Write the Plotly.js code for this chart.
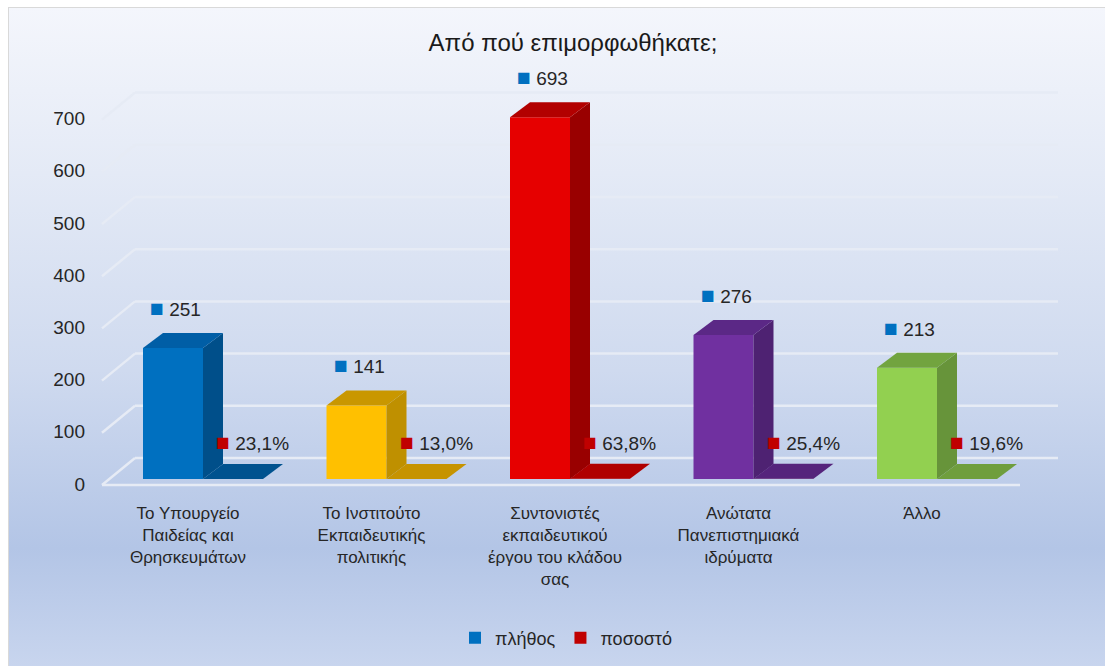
<!DOCTYPE html>
<html>
<head>
<meta charset="utf-8">
<script src="https://cdn.plot.ly/plotly-3.0.1.min.js"></script>
<style>
  html, body { margin: 0; padding: 0; background: #ffffff; width: 1105px; height: 666px; overflow: hidden; }
  #bg { position: absolute; left: 8px; top: 7px; width: 1097px; height: 659px;
        border-top: 1px solid #d9d9d9; border-left: 1px solid #d9d9d9;
        background: linear-gradient(to bottom, #f4f6fc 0%, #e4eaf6 25%, #cfdaef 55%, #b3c5e6 82%, #c8d5ee 100%); }
  #chart { position: absolute; left: 0; top: 0; width: 1105px; height: 666px; }
</style>
</head>
<body>
<div id="bg"></div>
<div id="chart"></div>
<script>
// ---------- data ----------
const categories = [
  'Το Υπουργείο<br>Παιδείας και<br>Θρησκευμάτων',
  'Το Ινστιτούτο<br>Εκπαιδευτικής<br>πολιτικής',
  'Συντονιστές<br>εκπαιδευτικού<br>έργου του κλάδου<br>σας',
  'Ανώτατα<br>Πανεπιστημιακά<br>ιδρύματα',
  'Άλλο'
];
const counts = [251, 141, 693, 276, 213];          // πλήθος
const percents = [23.1, 13.0, 63.8, 25.4, 19.6];   // ποσοστό (%)
const yTicks = [0, 100, 200, 300, 400, 500, 600, 700];

// ---------- styles ----------
const frontColors = ['#0070c0', '#ffc000', '#e60000', '#7030a0', '#92d050'];
const sideColors  = ['#004f8a', '#bf9000', '#990000', '#4e2272', '#67943a'];
const topColors   = ['#005ea6', '#c99700', '#b20000', '#5b2886', '#72a43f'];
const slabColors  = ['#00528f', '#c69300', '#b00000', '#55247c', '#6f9e3d'];
const seriesColors = ['#0070c0', '#c00000'];
const FONT = 'Liberation Sans, Arial, sans-serif';

// ---------- geometry (pixels) ----------
const L = 95, R = 1075, T = 50, B = 505;
const PX_X = 183.5, PX_Y = 0.522;   // px per x unit / per y unit
const X0PX = 203, Y0PX = 479;       // pixel of category 0 group centre / value 0 (bar front plane)
const xRange = [-(X0PX - L) / PX_X, (R - X0PX) / PX_X];
const yRange = [-(B - Y0PX) / PX_Y, (Y0PX - T) / PX_Y];
const groupPx = 120;
const w = (groupPx / 2) / PX_X;     // width of one bar in x units
const dxu = 20 / PX_X, dyu = 15 / PX_Y;   // bar depth
const pxToX = px => (px - X0PX) / PX_X;
const FLx = pxToX(102), FRx = pxToX(1020), BLx = pxToX(135), BRx = pxToX(1058);
const frontOff = 6 / PX_Y, backOff = 21 / PX_Y;

const idx = categories.map((_, i) => i);
const fracs = percents.map(p => p / 100);

const traces = [];
traces.push({
  type: 'bar', name: 'πλήθος', x: idx, y: counts, width: w, offset: -w,
  marker: { color: frontColors, line: { width: 0 } }, hoverinfo: 'y'
});
traces.push({
  type: 'bar', name: 'ποσοστό', x: idx, y: fracs, width: w, offset: 0,
  marker: { color: seriesColors[1], line: { width: 0 } }, hoverinfo: 'skip'
});

function poly(xs, ys, color) {
  traces.push({
    type: 'scatter', mode: 'lines', x: xs.concat([xs[0]]), y: ys.concat([ys[0]]),
    fill: 'toself', fillcolor: color, line: { width: 0, color: color },
    hoverinfo: 'skip', showlegend: false
  });
}
idx.forEach(i => {
  const v = counts[i], p = fracs[i];
  // πλήθος bar: side and top faces
  poly([i, i + dxu, i + dxu, i], [0, dyu, v + dyu, v], sideColors[i]);
  poly([i - w, i - w + dxu, i + dxu, i], [v, v + dyu, v + dyu, v], topColors[i]);
  // ποσοστό bar (fraction, almost zero height): top face
  poly([i, i + w, i + w + dxu, i + dxu], [p, p, p + dyu, p + dyu], slabColors[i]);
});

// walls: back wall gridlines and left wall lines
const gridColor = '#e6ebf5';
const shapes = [];
yTicks.forEach(v => {
  shapes.push({ type: 'line', xref: 'x', yref: 'y', layer: 'below',
    x0: BLx, x1: BRx, y0: v + backOff, y1: v + backOff, line: { color: gridColor, width: 2.5 } });
  shapes.push({ type: 'line', xref: 'x', yref: 'y', layer: 'below',
    x0: FLx, x1: BLx, y0: v - frontOff, y1: v + backOff, line: { color: gridColor, width: 2.5 } });
});
shapes.push({ type: 'line', xref: 'x', yref: 'y', layer: 'below',
  x0: FLx, x1: FRx, y0: -frontOff, y1: -frontOff, line: { color: gridColor, width: 2.5 } });

// data labels
const annotations = [];
const fmtPct = p => p.toFixed(1).replace('.', ',') + '%';
const sq = c => '<span style="color:' + c + ';font-size:23px">■</span>&nbsp;';
idx.forEach(i => {
  annotations.push({
    x: i - w, y: counts[i], xref: 'x', yref: 'y', xanchor: 'left', yanchor: 'middle',
    xshift: 5, yshift: 40, showarrow: false,
    text: sq(seriesColors[0]) + counts[i],
    font: { family: FONT, size: 19, color: '#262626' }
  });
  annotations.push({
    x: i, y: fracs[i], xref: 'x', yref: 'y', xanchor: 'left', yanchor: 'middle',
    xshift: 11, yshift: 37, showarrow: false,
    text: sq(seriesColors[1]) + fmtPct(percents[i]),
    font: { family: FONT, size: 19, color: '#262626' }
  });
});

const layout = {
  width: 1105, height: 666,
  paper_bgcolor: 'rgba(0,0,0,0)', plot_bgcolor: 'rgba(0,0,0,0)',
  margin: { l: L, r: 1105 - R, t: T, b: 666 - B, pad: 0 },
  font: { family: FONT, size: 18, color: '#262626' },
  title: { text: 'Από πού επιμορφωθήκατε;', x: 573 / 1105, xanchor: 'center',
           y: 1 - 43 / 666, yanchor: 'middle', font: { size: 24, color: '#1a1a1a' } },
  barmode: 'overlay',
  xaxis: { range: xRange, tickvals: idx, ticktext: categories, showgrid: false, zeroline: false,
           showline: false, ticks: '', ticklabelshift: -15, ticklabelstandoff: -4,
           tickfont: { size: 17, color: '#262626' }, fixedrange: true, automargin: false },
  yaxis: { range: yRange, tickvals: yTicks, showgrid: false, zeroline: false, showline: false,
           ticks: '', ticklabelshift: 5, ticklabelstandoff: 9,
           tickfont: { size: 19, color: '#262626' }, fixedrange: true, automargin: false },
  showlegend: true,
  legend: { orientation: 'h', xref: 'container', yref: 'container', x: 566 / 1105, xanchor: 'center',
            y: 1 - 638 / 666, yanchor: 'middle', font: { size: 18, color: '#262626' },
            bgcolor: 'rgba(0,0,0,0)', itemwidth: 30, traceorder: 'normal' },
  shapes: shapes,
  annotations: annotations
};

Plotly.newPlot('chart', traces, layout, { displayModeBar: false, staticPlot: true });
</script>
</body>
</html>
